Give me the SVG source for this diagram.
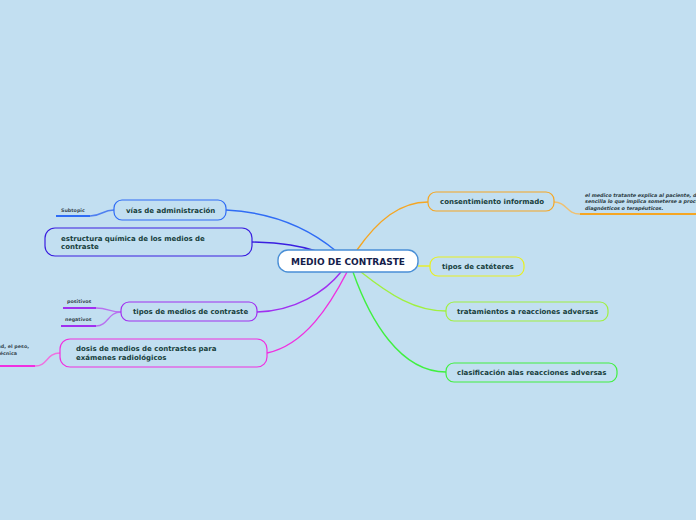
<svg xmlns="http://www.w3.org/2000/svg" width="696" height="520" viewBox="0 0 696 520">
<style>
.bg{fill:#c2dff1}
.node{fill:#c2dff1;stroke-width:1.2}
.t{font-family:"DejaVu Sans",Verdana,sans-serif;font-weight:bold;font-size:7px;fill:#17403c}
.s{font-family:"DejaVu Sans",Verdana,sans-serif;font-weight:bold;font-size:4.8px;fill:#3a4a52}
.si{font-family:"DejaVu Sans",Verdana,sans-serif;font-style:italic;font-weight:bold;font-size:4.9px;fill:#2c3c44}
.c{fill:none;stroke-width:1.4}
.u{fill:none;stroke-width:2}
</style>
<rect class="bg" x="0" y="0" width="696" height="520"/>
<g id="connectors">
<path class="c" stroke="#2f6cf5" d="M226,210 C285,213 318,236 336,251"/>
<path class="c" stroke="#3a1fe0" d="M252,242 C285,243 300,246 316,251"/>
<path class="c" stroke="#a030f0" d="M257,312 C295,311 325,292 341,272"/>
<path class="c" stroke="#f030e0" d="M267,353 C305,345 330,305 347,272"/>
<path class="c" stroke="#f5a623" d="M357,250 C378,220 400,202 428,202"/>
<path class="c" stroke="#e8f020" d="M418,266 L430,266"/>
<path class="c" stroke="#a0f040" d="M361,272 C390,295 415,311 446,311"/>
<path class="c" stroke="#40f040" d="M353,272 C370,320 400,372 446,372"/>
<path class="c" stroke="#4f80f0" stroke-width="0.8" d="M90,216 C102,216 102,210 114,210"/>
<path class="c" stroke="#b870f0" stroke-width="0.8" d="M96,308 C108,308 110,312 121,312"/>
<path class="c" stroke="#b870f0" stroke-width="0.8" d="M96,326 C108,326 108,312 121,312"/>
<path class="c" stroke="#f070e0" stroke-width="0.8" d="M35,366 C48,366 46,353 60,353"/>
<path class="c" stroke="#f0c070" stroke-width="0.8" d="M554,202 C567,202 566,214 580,214"/>
</g>
<g id="center">
<rect x="278" y="250" width="140" height="22" rx="10" fill="#ffffff" stroke="#4a8fd6" stroke-width="1.4"/>
<text x="348" y="264.5" text-anchor="middle" font-family="DejaVu Sans,Verdana,sans-serif" font-weight="bold" font-size="9" fill="#14204a">MEDIO DE CONTRASTE</text>
</g>
<g id="vias">
<rect class="node" x="114" y="200" width="112" height="20" rx="8" stroke="#2f6cf5"/>
<text class="t" x="126" y="213">vías de administración</text>
</g>
<g id="vias-sub">
<text class="s" x="61" y="212">Subtopic</text>
<line class="u" x1="56" y1="216" x2="90" y2="216" stroke="#2f6cf5"/>
</g>
<g id="estructura">
<rect class="node" x="45" y="228" width="207" height="28" rx="10" stroke="#3a1fe0"/>
<text class="t" x="61" y="241">estructura química de los medios de</text>
<text class="t" x="61" y="249">contraste</text>
</g>
<g id="tipos-medios">
<rect class="node" x="121" y="302" width="136" height="19" rx="8" stroke="#a030f0"/>
<text class="t" x="133" y="314">tipos de medios de contraste</text>
</g>
<g id="positivos">
<text class="s" x="67" y="303">positivos</text>
<line class="u" x1="63" y1="308" x2="96" y2="308" stroke="#a030f0"/>
</g>
<g id="negativos">
<text class="s" x="65" y="321">negativos</text>
<line class="u" x1="61" y1="326" x2="96" y2="326" stroke="#a030f0"/>
</g>
<g id="dosis">
<rect class="node" x="60" y="339" width="207" height="28" rx="10" stroke="#f030e0"/>
<text class="t" x="76" y="351">dosis de medios de contrastes para</text>
<text class="t" x="76" y="360">exámenes radiológicos</text>
</g>
<g id="dosis-sub">
<text class="s" x="29" y="348" text-anchor="end">edad, el peso,</text>
<text class="s" x="17" y="355" text-anchor="end">y la técnica</text>
<line class="u" x1="0" y1="366" x2="35" y2="366" stroke="#f030e0"/>
</g>
<g id="consentimiento">
<rect class="node" x="428" y="192" width="126" height="19" rx="8" stroke="#f5a623"/>
<text class="t" x="440" y="204">consentimiento informado</text>
</g>
<g id="consentimiento-sub">
<text class="si" x="585" y="197">el medico tratante explica al paciente, de manera</text>
<text class="si" x="585" y="203">sencilla lo que implica someterse a procedimientos</text>
<text class="si" x="585" y="210">diagnósticos o terapéuticos.</text>
<line class="u" x1="580" y1="214" x2="696" y2="214" stroke="#f5a623"/>
</g>
<g id="cateteres">
<rect class="node" x="430" y="257" width="94" height="19" rx="8" stroke="#e8f020"/>
<text class="t" x="442" y="269">tipos de catéteres</text>
</g>
<g id="tratamientos">
<rect class="node" x="446" y="302" width="162" height="19" rx="8" stroke="#a0f040"/>
<text class="t" x="457" y="314">tratamientos a reacciones adversas</text>
</g>
<g id="clasificacion">
<rect class="node" x="446" y="363" width="171" height="19" rx="8" stroke="#40f040"/>
<text class="t" x="457" y="375">clasificación alas reacciones adversas</text>
</g>
</svg>
